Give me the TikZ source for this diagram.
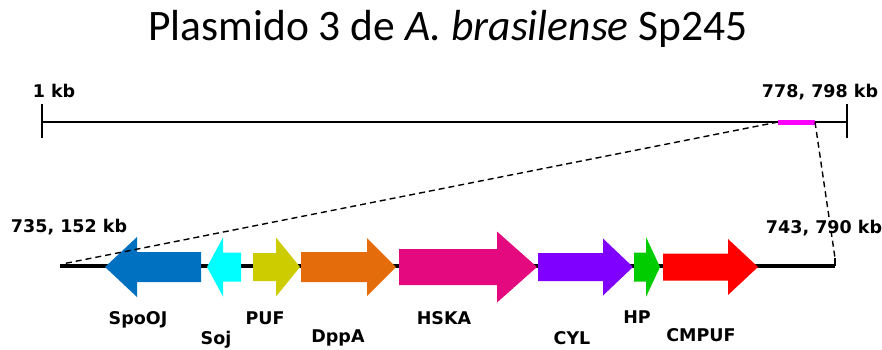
\documentclass[tikz,border=0pt]{standalone}
\usepackage{fontspec}
\setmainfont{Carlito}
\newfontfamily\labelfont{DejaVu Sans}
\definecolor{cSpoOJ}{RGB}{0,112,192}
\definecolor{cSoj}{RGB}{0,255,255}
\definecolor{cPUF}{RGB}{204,204,0}
\definecolor{cDppA}{RGB}{228,108,10}
\definecolor{cHSKA}{RGB}{229,9,127}
\definecolor{cCYL}{RGB}{128,0,255}
\definecolor{cHP}{RGB}{0,204,0}
\definecolor{cCMPUF}{RGB}{255,0,0}
\definecolor{cRegion}{RGB}{255,0,255}
\tikzset{lbl/.style={font=\labelfont\bfseries\fontsize{17.5}{20}\selectfont, inner sep=0pt, anchor=base}}
% gene arrow: colour, tail x, head base x, tip x, body half height, head half height
\newcommand{\gene}[6]{\fill[#1] (#2,267-#5) -- (#3,267-#5) -- (#3,267-#6) -- (#4,267) -- (#3,267+#6) -- (#3,267+#5) -- (#2,267+#5) -- cycle;}
\begin{document}
\begin{tikzpicture}[x=1pt,y=-1pt]
	\useasboundingbox (0,0) rectangle (882,349);
	\node [font=\fontsize{43.5}{50}\selectfont, inner sep=0pt, anchor=base] (title) at (448,40) {Plasmido 3 de \textit{A. brasilense} Sp245};
	% plasmid
	\coordinate (p1) at (42,122);
	\coordinate (p2) at (847,122);
	\coordinate (m1) at (778,122);
	\coordinate (m2) at (815,122);
	\draw [line width=2.2pt] (p1) -- (p2);
	\draw [line width=2.5pt] (42,104) -- (42,138);
	\draw [line width=2.5pt] (847,104) -- (847,138);
	\draw [cRegion, line width=5pt] (m1) -- (m2);
	\node [lbl] (kb1) at (54,97) {1 kb};
	\node [lbl] (kb2) at (820,97) {778, 798 kb};
	% region
	\coordinate (r1) at (60,266);
	\coordinate (r2) at (835,266);
	\draw [line width=4pt] (r1) -- (r2);
	\draw [line width=2pt] (r2) -- (835,258);
	\gene{cSpoOJ}{201}{137}{105}{15}{30}
	\gene{cSoj}{241}{223}{207}{14.5}{29.5}
	\gene{cPUF}{253}{276}{300}{14}{29.5}
	\gene{cDppA}{301}{367}{396}{15}{29}
	\gene{cHSKA}{399}{497}{537}{18}{35.5}
	\gene{cCYL}{538}{603}{633}{14}{28.5}
	\gene{cHP}{634}{646}{660}{14.5}{30}
	\gene{cCMPUF}{663}{728}{758}{13.5}{28}
	\draw [dash pattern=on 6pt off 4pt, line width=1.4pt] (m1) -- (62,264);
	\draw [dash pattern=on 6pt off 4pt, line width=1.4pt] (m2) -- (835,258);
	\node [lbl] (start) at (69,232) {735, 152 kb};
	\node [lbl] (end) at (824,233) {743, 790 kb};
	\node [lbl] (SpoOJ) at (138,324) {SpoOJ};
	\node [lbl] (Soj) at (216,344) {Soj};
	\node [lbl] (PUF) at (265,324) {PUF};
	\node [lbl] (DppA) at (338,342) {DppA};
	\node [lbl] (HSKA) at (444,324) {HSKA};
	\node [lbl] (CYL) at (572,344) {CYL};
	\node [lbl] (HP) at (637,323) {HP};
	\node [lbl] (CMPUF) at (701,341) {CMPUF};
	\end{tikzpicture}
\end{document}
